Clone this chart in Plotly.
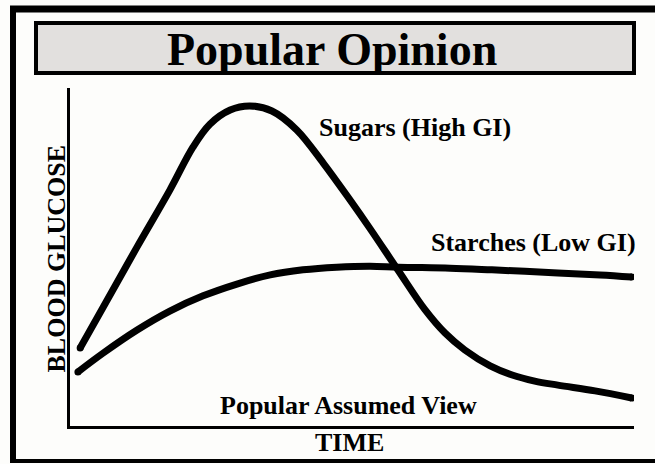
import plotly.graph_objects as go

# ---- data (time vs. blood glucose, arbitrary units) ----
sugars_time = [1.8, 5.9, 11.9, 17.7, 21.8, 24.8, 28.4, 31.9, 35.8, 40.2, 44.9, 49.6, 53.2,
               58.2, 62.9, 66.5, 70.0, 74.5, 78.4, 82.4, 86.5, 93.1, 99.6]
sugars_glucose = [23.1, 35.2, 53.0, 69.8, 82.5, 89.3, 93.5, 94.7, 93.2, 87.6, 77.8, 67.0, 58.4,
                  46.0, 34.5, 27.5, 22.5, 17.8, 15.1, 13.3, 12.1, 10.4, 8.3]

starches_time = [1.4, 5.9, 11.9, 17.7, 23.6, 29.6, 35.5, 41.3, 47.3, 53.2, 58.2, 67.4, 74.8,
                 86.5, 94.0, 99.6]
starches_glucose = [16.0, 21.6, 28.4, 34.0, 38.5, 42.0, 44.7, 46.2, 47.0, 47.3, 47.0, 46.7, 46.2,
                    45.3, 44.7, 44.1]

title_text = "Popular Opinion"
sugars_label = "Sugars (High GI)"
starches_label = "Starches (Low GI)"
caption_text = "Popular Assumed View"
x_title = "TIME"
y_title = "BLOOD GLUCOSE"

W, H = 655, 464
FONT = "Liberation Serif, Times New Roman, serif"


def fx(p):
    return p / W


def fy(p):
    return 1 - p / H


fig = go.Figure()
for t, g in [(sugars_time, sugars_glucose), (starches_time, starches_glucose)]:
    fig.add_trace(go.Scatter(
        x=t, y=g, mode="lines",
        line=dict(color="black", width=7, shape="spline", smoothing=1.0),
        hoverinfo="skip", showlegend=False,
    ))
    # round end caps
    fig.add_trace(go.Scatter(
        x=[t[0], t[-1]], y=[g[0], g[-1]], mode="markers",
        marker=dict(color="black", size=7, line=dict(width=0)),
        hoverinfo="skip", showlegend=False,
    ))

fig.update_xaxes(
    range=[0, 100], domain=[fx(70), fx(634)],
    showline=True, linecolor="black", linewidth=3,
    showgrid=False, zeroline=False, showticklabels=False, ticks="",
)
fig.update_yaxes(
    range=[0, 100], domain=[fy(426), fy(88)],
    showline=True, linecolor="black", linewidth=3,
    showgrid=False, zeroline=False, showticklabels=False, ticks="",
)

shapes = [
    # outer frame (right side runs off the picture)
    dict(type="line", xref="paper", yref="paper", x0=fx(13), x1=fx(13), y0=fy(463), y1=fy(6),
         line=dict(color="black", width=6)),
    dict(type="line", xref="paper", yref="paper", x0=fx(10), x1=fx(700), y0=fy(9), y1=fy(9),
         line=dict(color="black", width=7)),
    dict(type="line", xref="paper", yref="paper", x0=fx(10), x1=fx(700), y0=fy(461), y1=fy(461),
         line=dict(color="black", width=4)),
    # title box
    dict(type="rect", xref="paper", yref="paper", x0=fx(36), x1=fx(634), y0=fy(73), y1=fy(23),
         fillcolor="#e2e0de", line=dict(color="black", width=4), layer="below"),
]

annotations = [
    dict(text=f"<b>{title_text}</b>", x=fx(332), y=fy(49), font=dict(size=46)),
    dict(text=f"<b>{sugars_label}</b>", x=fx(415), y=fy(127), font=dict(size=26)),
    dict(text=f"<b>{starches_label}</b>", x=fx(533), y=fy(243), font=dict(size=26)),
    dict(text=f"<b>{caption_text}</b>", x=fx(348), y=fy(405), font=dict(size=26)),
    dict(text=f"<b>{x_title}</b>", x=fx(349), y=fy(442), font=dict(size=26)),
    dict(text=f"<b>{y_title}</b>", x=fx(55.5), y=fy(258), font=dict(size=26, weight="bold"),
         textangle=-90),
]
for a in annotations:
    a.update(xref="paper", yref="paper", showarrow=False, xanchor="center", yanchor="middle")
    a["font"].update(family=FONT, color="black")

fig.update_layout(
    width=W, height=H, autosize=False,
    margin=dict(l=0, r=0, t=0, b=0, pad=0),
    paper_bgcolor="#fdfdfb", plot_bgcolor="#fdfdfb",
    shapes=shapes, annotations=annotations,
    showlegend=False,
)

fig.write_html(
    "out.html",
    config={"displayModeBar": False},
    post_script="document.body.style.margin='0px';document.body.style.overflow='hidden';",
)
